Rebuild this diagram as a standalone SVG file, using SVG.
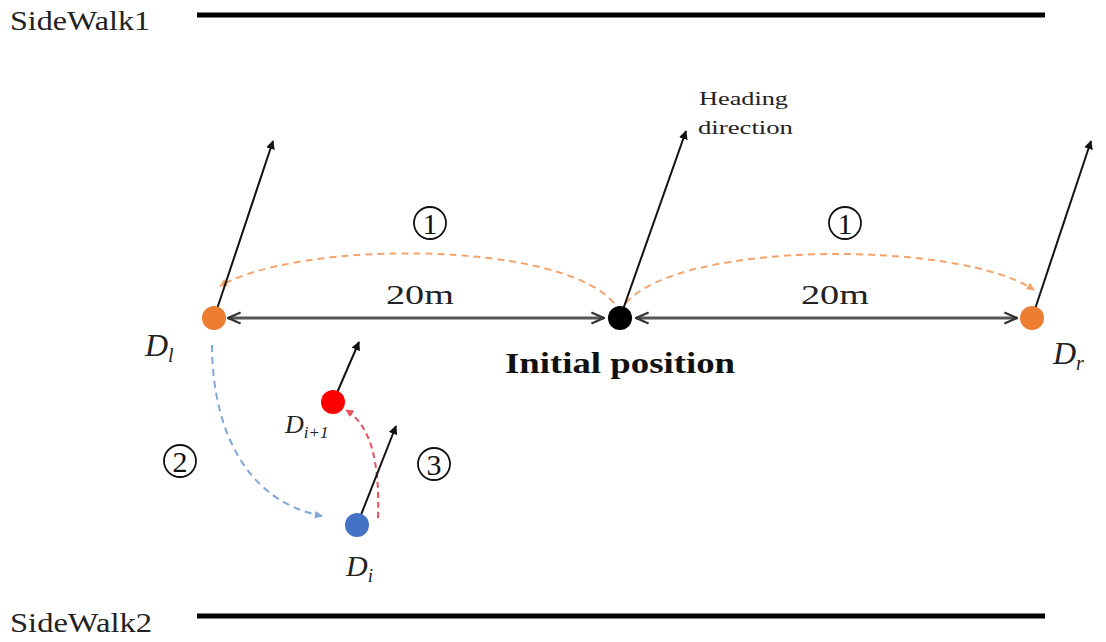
<svg xmlns="http://www.w3.org/2000/svg" width="1106" height="642" viewBox="0 0 1106 642">
<style>
.serif{font-family:"Liberation Serif","DejaVu Serif",serif;fill:#222}
.walk{stroke:#000;stroke-width:5}
.head{stroke:#111;stroke-width:2;fill:none}
.dist{stroke:#555;stroke-width:3;fill:none}
.circ{font-family:"Liberation Serif","DejaVu Serif",serif;fill:#111}
.dl{font-family:"Liberation Serif","DejaVu Serif",serif;font-style:italic;fill:#222}
</style>
<defs>
<marker id="ah" viewBox="0 0 10 10" refX="9" refY="5" markerWidth="9" markerHeight="9" orient="auto" markerUnits="userSpaceOnUse"><path d="M0,0 L10,5 L0,10 z" fill="#111"/></marker>
<marker id="ah2" viewBox="0 0 10 10" refX="9" refY="5" markerWidth="14" markerHeight="14" orient="auto-start-reverse" markerUnits="userSpaceOnUse"><path d="M0,1 L9,5 L0,9" fill="none" stroke="#333" stroke-width="1.6"/></marker>
<marker id="ao" viewBox="0 0 10 10" refX="9" refY="5" markerWidth="8" markerHeight="8" orient="auto" markerUnits="userSpaceOnUse"><path d="M0,0 L10,5 L0,10 z" fill="#F4A46C"/></marker>
<marker id="ab" viewBox="0 0 10 10" refX="9" refY="5" markerWidth="8" markerHeight="8" orient="auto" markerUnits="userSpaceOnUse"><path d="M0,0 L10,5 L0,10 z" fill="#7FA6DB"/></marker>
<marker id="ar" viewBox="0 0 10 10" refX="9" refY="5" markerWidth="8" markerHeight="8" orient="auto" markerUnits="userSpaceOnUse"><path d="M0,0 L10,5 L0,10 z" fill="#E8505A"/></marker>
</defs>
<rect width="1106" height="642" fill="#fff"/>
<g id="sidewalk1">
<text class="serif" x="10" y="30" font-size="27" textLength="140" lengthAdjust="spacingAndGlyphs">SideWalk1</text>
<line class="walk" x1="197" y1="15" x2="1045" y2="15"/>
</g>
<g id="sidewalk2">
<text class="serif" x="10" y="632" font-size="27" textLength="142" lengthAdjust="spacingAndGlyphs">SideWalk2</text>
<line class="walk" x1="197" y1="616" x2="1045" y2="616"/>
</g>
<g id="connectors">
<line class="dist" x1="228" y1="318" x2="604" y2="318" marker-start="url(#ah2)" marker-end="url(#ah2)"/>
<line class="dist" x1="636" y1="318" x2="1017" y2="318" marker-start="url(#ah2)" marker-end="url(#ah2)"/>
<path d="M614,303 C560,240 300,240 220,286" fill="none" stroke="#F4A46C" stroke-width="2" stroke-dasharray="7,5" marker-end="url(#ao)"/>
<path d="M626,303 C680,240 960,240 1034,290" fill="none" stroke="#F4A46C" stroke-width="2" stroke-dasharray="7,5" marker-end="url(#ao)"/>
<path d="M212,345 C212,420 240,500 322,516" fill="none" stroke="#7FA6DB" stroke-width="2" stroke-dasharray="7,5" marker-end="url(#ab)"/>
<path d="M378,518 C380,460 370,425 346,410" fill="none" stroke="#E8505A" stroke-width="2" stroke-dasharray="6,4" marker-end="url(#ar)"/>
<line class="head" x1="214" y1="318" x2="273" y2="141" marker-end="url(#ah)"/>
<line class="head" x1="620" y1="318" x2="686" y2="131" marker-end="url(#ah)"/>
<line class="head" x1="1032" y1="318" x2="1091" y2="141" marker-end="url(#ah)"/>
<line class="head" x1="333" y1="402" x2="359" y2="342" marker-end="url(#ah)"/>
<line class="head" x1="357" y1="525" x2="396" y2="426" marker-end="url(#ah)"/>
</g>
<g id="labels">
<text class="serif" x="420" y="304" font-size="27" text-anchor="middle" textLength="68" lengthAdjust="spacingAndGlyphs">20m</text>
<text class="serif" x="835" y="304" font-size="27" text-anchor="middle" textLength="68" lengthAdjust="spacingAndGlyphs">20m</text>
<g fill="none" stroke="#111" stroke-width="1.8">
<circle cx="430" cy="223" r="16"/><circle cx="845" cy="223" r="16"/>
<circle cx="180" cy="461" r="16"/><circle cx="434" cy="464" r="16"/>
</g>
<text class="circ" x="430" y="234" font-size="30" text-anchor="middle">1</text>
<text class="circ" x="845" y="234" font-size="30" text-anchor="middle">1</text>
<text class="circ" x="180" y="472" font-size="30" text-anchor="middle">2</text>
<text class="circ" x="434" y="475" font-size="30" text-anchor="middle">3</text>
<text class="serif" x="699" y="105" font-size="18" textLength="89" lengthAdjust="spacingAndGlyphs">Heading</text>
<text class="serif" x="698" y="134" font-size="18" textLength="95" lengthAdjust="spacingAndGlyphs">direction</text>
</g>
<g id="node-dl">
<circle cx="214" cy="318" r="12" fill="#ED7D31"/>
<text class="dl" x="145" y="356" font-size="32">D<tspan font-size="20" dy="6">l</tspan></text>
</g>
<g id="node-initial">
<circle cx="620" cy="318" r="12" fill="#000"/>
<text x="620" y="373" font-family="Liberation Serif, DejaVu Serif, serif" font-weight="bold" font-size="30" fill="#111" text-anchor="middle" textLength="230" lengthAdjust="spacingAndGlyphs">Initial position</text>
</g>
<g id="node-dr">
<circle cx="1032" cy="318" r="12" fill="#ED7D31"/>
<text class="dl" x="1053" y="364" font-size="32">D<tspan font-size="20" dy="6">r</tspan></text>
</g>
<g id="node-di1">
<circle cx="333" cy="402" r="12" fill="#FF0000"/>
<text class="dl" x="285" y="433" font-size="26">D<tspan font-size="17" dy="5">i+1</tspan></text>
</g>
<g id="node-di">
<circle cx="357" cy="525" r="12" fill="#4472C4"/>
<text class="dl" x="346" y="576" font-size="30">D<tspan font-size="19" dy="6">i</tspan></text>
</g>
</svg>
